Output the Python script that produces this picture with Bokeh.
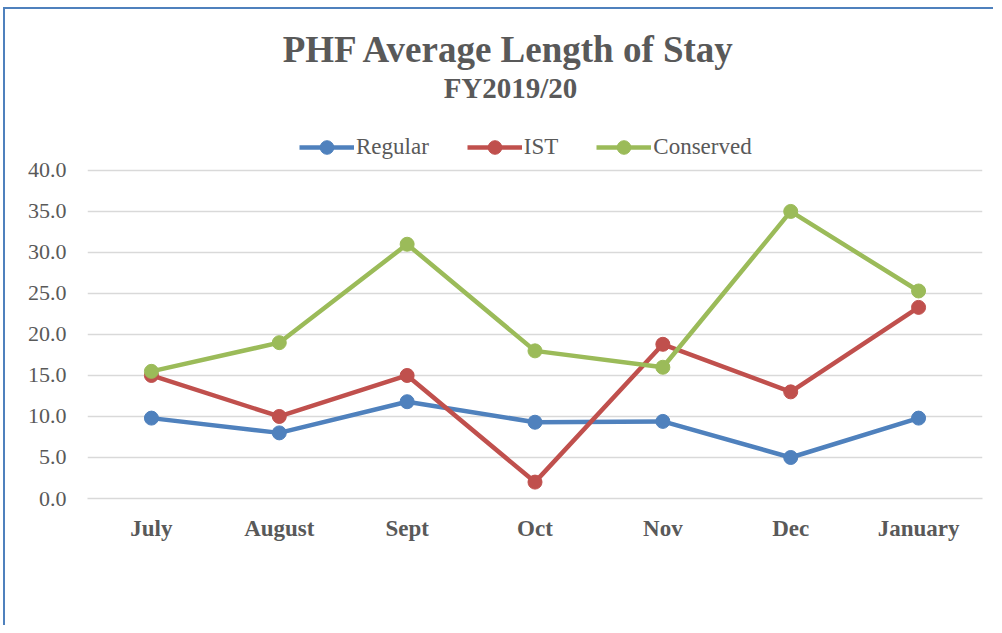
from bokeh.plotting import figure
from bokeh.models import Range1d, Legend, LegendItem, Label, NumeralTickFormatter, FixedTicker
from bokeh.embed import file_html
from bokeh.resources import INLINE

months = ["July", "August", "Sept", "Oct", "Nov", "Dec", "January"]
regular = [9.8, 8.0, 11.8, 9.3, 9.4, 5.0, 9.8]
ist = [15.0, 10.0, 15.0, 2.0, 18.8, 13.0, 23.3]
conserved = [15.5, 19.0, 31.0, 18.0, 16.0, 35.0, 25.3]
y_ticks = [0, 5, 10, 15, 20, 25, 30, 35, 40]

FONT = "Liberation Serif"
GRAY = "#595959"

# frame extends above 40 to host the title and legend; gridlines only at y_ticks
p = figure(x_range=months, y_range=Range1d(0, 58.4), width=990, height=618,
           output_backend="svg", toolbar_location=None,
           min_border_left=82, min_border_right=13, min_border_top=10, min_border_bottom=129,
           styles={"border-left": "2px solid #4F81BD", "border-top": "2px solid #4F81BD",
                   "margin-left": "3px", "margin-top": "7px"})
p.outline_line_color = None
p.xgrid.grid_line_color = None
p.ygrid.grid_line_color = "#D9D9D9"
p.ygrid.grid_line_width = 1.3
p.yaxis.ticker = FixedTicker(ticks=y_ticks)
p.yaxis.formatter = NumeralTickFormatter(format="0.0")
p.yaxis.axis_line_color = None
p.yaxis.major_tick_line_color = None
p.yaxis.minor_tick_line_color = None
p.yaxis.major_label_text_font = FONT
p.yaxis.major_label_text_font_size = "22px"
p.yaxis.major_label_text_color = GRAY
p.yaxis.major_label_standoff = 15
p.xaxis.axis_line_color = "#D9D9D9"
p.xaxis.axis_line_width = 1.5
p.xaxis.major_tick_line_color = None
p.xaxis.minor_tick_line_color = None
p.xaxis.major_label_text_font = FONT
p.xaxis.major_label_text_font_size = "23px"
p.xaxis.major_label_text_font_style = "bold"
p.xaxis.major_label_text_color = GRAY
p.xaxis.major_label_standoff = 11

series = [("Regular", regular, "#4F81BD"), ("IST", ist, "#C0504D"), ("Conserved", conserved, "#9BBB59")]
items = []
for name, vals, col in series:
    l = p.line(months, vals, line_color=col, line_width=4.5)
    s = p.scatter(months, vals, size=14, fill_color=col, line_color=col)
    items.append(LegendItem(label=name, renderers=[l, s]))

legend = Legend(items=items, orientation="horizontal", location=(212, 334),
                glyph_width=55, glyph_height=34, label_text_font=FONT,
                label_text_font_size="23px", label_text_color=GRAY,
                spacing=38, label_standoff=2, background_fill_alpha=0,
                border_line_color=None, padding=0, margin=0)
p.add_layout(legend, "center")

p.add_layout(Label(x=422, y=449, x_units="screen", y_units="screen", text="PHF Average Length of Stay",
                   text_align="center", text_baseline="middle", text_font=FONT, text_font_size="37px",
                   text_font_style="bold", text_color=GRAY))
p.add_layout(Label(x=423, y=411, x_units="screen", y_units="screen", text="FY2019/20",
                   text_align="center", text_baseline="middle", text_font=FONT, text_font_size="29px",
                   text_font_style="bold", text_color=GRAY))

open("out.html", "w").write(file_html(p, INLINE))
